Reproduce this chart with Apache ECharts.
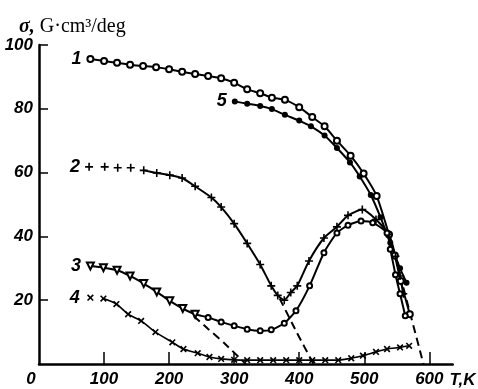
<!DOCTYPE html>
<html>
<head>
<meta charset="utf-8">
<script src="https://cdn.jsdelivr.net/npm/echarts@6/dist/echarts.min.js"></script>
<style>
  html, body { margin: 0; padding: 0; background: #fff; }
  #main { width: 478px; height: 389px; }
</style>
</head>
<body>
<div id="main"></div>
<script>
// temperature (K) and magnetisation values
var T1 = [79, 100, 120, 140, 160, 180, 200, 220, 240, 260, 280, 300, 320, 340, 358, 378, 400, 420, 439, 458, 479, 499, 519, 538, 547, 556, 570];
var S1 = [95.6, 95, 94.4, 93.8, 93.4, 93, 92.4, 91.6, 90.9, 90.3, 89.6, 88.2, 86.1, 84.9, 83.5, 82.8, 80.5, 77.4, 74.5, 70, 65.3, 59.7, 52.7, 40.6, 34, 26, 15.6];

var T5 = [301, 320, 340, 358, 378, 400, 418, 439, 458, 478, 493, 510, 525, 540, 555, 565];
var S5 = [82.3, 81.6, 80.9, 79.9, 78.1, 76.3, 74.5, 71.6, 67.7, 63.2, 58.8, 53, 46, 38, 30, 25.5];

var T2a = [77, 101, 121, 141];
var S2a = [61.8, 61.8, 61.5, 61.5];
var T2 = [161, 181, 201, 220, 240, 265, 280, 300, 320, 340, 357, 367, 377, 387, 397, 415, 438, 458, 475, 497, 518, 538, 548, 555, 560];
var S2 = [60.7, 59.9, 59.2, 58.3, 55.7, 52.2, 49.2, 44, 37.8, 31.2, 24.5, 21.5, 20, 22.4, 24.5, 32.3, 39.5, 43, 46.6, 48.4, 45.3, 40.6, 33.8, 27.6, 22];

var T3 = [79, 99, 120, 140, 161, 181, 201, 221, 240, 260, 280, 300, 320, 340, 357, 377, 395, 416, 438, 458, 475, 495, 513, 535, 540, 548, 555, 563];
var S3 = [30.7, 30.2, 29.4, 27.6, 25.2, 22.6, 19.8, 17.4, 15.6, 14.6, 13.2, 12, 10.9, 10.4, 10.7, 12.8, 16.7, 24.5, 34.9, 41.1, 43.5, 44.8, 44.3, 41.1, 36, 28, 22, 15.1];

var T4a = [79];
var S4a = [20.8];
var T4 = [99, 119, 137, 157, 179, 205, 222, 244, 262, 280, 300, 320, 340, 360, 380, 400, 420, 440, 460, 480, 498, 518, 535, 555, 569];
var S4 = [20.5, 18.8, 15.6, 13.5, 10, 6.8, 4.7, 3.4, 2.2, 1.6, 1.3, 1.2, 1.2, 1.2, 1.2, 1.2, 1.2, 1.2, 1.2, 1.8, 2.6, 3.8, 4.7, 5.2, 5.7];

// dashed extrapolations
var TD2 = [370, 396, 422];
var SD2 = [20.5, 10, 0];
var TD3 = [238, 260, 285, 318];
var SD3 = [15, 11, 6.5, 0];
var TDT = [560, 591];
var SDT = [24, 0];

var xLabels = [0, 100, 200, 300, 400, 500, 600];
var xTicks = [100, 200, 300, 400, 500, 600];
var yTicks = [20, 40, 60, 80, 100];

var numFont = '"Liberation Sans", Arial, sans-serif';

function pairs(t, s) {
    return t.map(function (x, i) { return [x, s[i]]; });
}

function tagFirst(data, text) {
    data[0] = {
        value: data[0],
        label: {
            show: true,
            position: 'left',
            distance: 5,
            formatter: text,
            color: '#000',
            fontFamily: numFont,
            fontStyle: 'italic',
            fontWeight: 'bold',
            fontSize: 18
        }
    };
    return data;
}

var plus = 'path://M4,0h2v4h4v2h-4v4h-2v-4h-4v-2h4z';

var d3data = pairs(T3, S3).map(function (p) {
    if (p[0] > 240) {
        return { value: p, symbol: 'emptyCircle', symbolSize: 5, symbolRotate: 0 };
    }
    return p;
});
tagFirst(d3data, '3');

function dashed(t, s) {
    return {
        type: 'line',
        data: pairs(t, s),
        showSymbol: false,
        silent: true,
        smooth: 0.2,
        lineStyle: { color: '#000', width: 2, type: [8, 5] },
        z: 1
    };
}

var chart = echarts.init(document.getElementById('main'));

chart.setOption({
    animation: false,
    backgroundColor: '#fff',
    title: {
        text: '{a|σ,} {b|G·cm³/deg}',
        left: 14,
        top: 12,
        textStyle: {
            fontWeight: 'normal',
            rich: {
                a: { fontFamily: '"Liberation Serif", serif', fontStyle: 'italic', fontWeight: 'bold', fontSize: 20, color: '#000' },
                b: { fontFamily: '"Liberation Serif", serif', fontWeight: 'normal', fontSize: 20, color: '#000' }
            }
        }
    },
    grid: { left: 39, right: 16, top: 45, bottom: 24 },
    xAxis: {
        type: 'value',
        min: 0,
        max: 636,
        name: 'T,K',
        nameLocation: 'end',
        nameGap: 0,
        nameTextStyle: {
            align: 'right',
            verticalAlign: 'top',
            padding: [8, 0, 0, 0],
            color: '#000',
            fontFamily: numFont,
            fontStyle: 'italic',
            fontWeight: 'bold',
            fontSize: 17
        },
        axisLine: { lineStyle: { color: '#000', width: 2.5 } },
        axisTick: { inside: true, length: 12, customValues: xTicks, lineStyle: { color: '#000', width: 1.5 } },
        axisLabel: {
            customValues: xLabels,
            margin: 7,
            color: '#000',
            fontFamily: numFont,
            fontStyle: 'italic',
            fontWeight: 'bold',
            fontSize: 17,
            formatter: function (v) { return v === 0 ? '{z|0}' : String(v); },
            rich: { z: { padding: [0, 16, 0, 0], fontFamily: numFont, fontStyle: 'italic', fontWeight: 'bold', fontSize: 17, color: '#000' } }
        },
        splitLine: { show: false }
    },
    yAxis: {
        type: 'value',
        min: 0,
        max: 100,
        interval: 20,
        axisLine: { show: true, lineStyle: { color: '#000', width: 2.5 } },
        axisTick: { show: true, inside: true, length: 9, customValues: yTicks, lineStyle: { color: '#000', width: 1.5 } },
        axisLabel: {
            customValues: yTicks,
            margin: 6,
            color: '#000',
            fontFamily: numFont,
            fontStyle: 'italic',
            fontWeight: 'bold',
            fontSize: 17
        },
        splitLine: { show: false }
    },
    series: [
        dashed(TD2, SD2),
        dashed(TD3, SD3),
        dashed(TDT, SDT),
        {
            type: 'line',
            data: tagFirst(pairs(T1, S1), '1'),
            smooth: 0.2,
            symbol: 'emptyCircle',
            symbolSize: 6,
            lineStyle: { color: '#000', width: 2 },
            itemStyle: { color: '#000', borderWidth: 1.5 }
        },
        {
            type: 'line',
            data: tagFirst(pairs(T5, S5), '5'),
            smooth: 0.2,
            symbol: 'circle',
            symbolSize: 6,
            lineStyle: { color: '#000', width: 2 },
            itemStyle: { color: '#000' }
        },
        {
            type: 'scatter',
            data: tagFirst(pairs(T2a, S2a), '2'),
            symbol: plus,
            symbolSize: 8,
            itemStyle: { color: '#000', opacity: 1 }
        },
        {
            type: 'line',
            data: pairs(T2, S2),
            smooth: 0.2,
            symbol: plus,
            symbolSize: 8,
            lineStyle: { color: '#000', width: 2 },
            itemStyle: { color: '#000' }
        },
        {
            type: 'line',
            data: d3data,
            smooth: 0.2,
            symbol: 'emptyTriangle',
            symbolRotate: 180,
            symbolSize: 7,
            lineStyle: { color: '#000', width: 2 },
            itemStyle: { color: '#000', borderWidth: 1.5 }
        },
        {
            type: 'scatter',
            data: tagFirst(pairs(T4a, S4a), '4'),
            symbol: plus,
            symbolRotate: 45,
            symbolSize: 8,
            itemStyle: { color: '#000', opacity: 1 }
        },
        {
            type: 'line',
            data: pairs(T4, S4),
            smooth: 0.2,
            symbol: plus,
            symbolRotate: 45,
            symbolSize: 8,
            lineStyle: { color: '#000', width: 1.6 },
            itemStyle: { color: '#000' }
        }
    ]
});
</script>
</body>
</html>
